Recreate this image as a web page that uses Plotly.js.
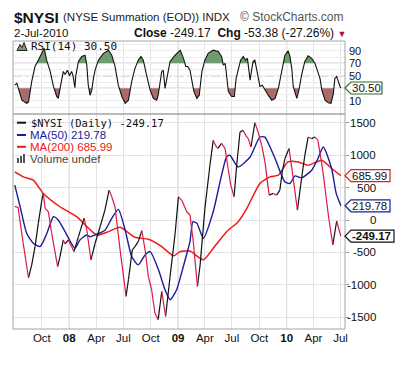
<!DOCTYPE html>
<html><head><meta charset="utf-8">
<script src="https://cdn.plot.ly/plotly-3.0.1.min.js"></script>
<style>html,body{margin:0;padding:0;background:#fff;}#chart{width:417px;height:369px;}</style>
</head><body><div id="chart"></div>
<script>
// ---------- data ----------
const nysiDates = ['2007-07-02','2007-07-13','2007-07-30','2007-08-17','2007-08-28','2007-09-08','2007-09-19','2007-10-01','2007-10-06','2007-10-12','2007-10-23','2007-11-03','2007-11-23','2007-12-01','2007-12-12','2007-12-18','2007-12-29','2008-01-17','2008-02-01','2008-02-20','2008-02-29','2008-03-14','2008-03-28','2008-04-14','2008-04-30','2008-05-14','2008-05-23','2008-06-03','2008-06-20','2008-07-10','2008-07-18','2008-07-31','2008-08-09','2008-08-20','2008-09-01','2008-09-12','2008-09-23','2008-10-04','2008-10-15','2008-10-26','2008-11-07','2008-11-20','2008-12-05','2008-12-22','2009-01-02','2009-01-14','2009-01-30','2009-02-10','2009-02-21','2009-03-07','2009-03-16','2009-04-01','2009-04-18','2009-04-29','2009-05-08','2009-05-15','2009-05-27','2009-06-08','2009-06-18','2009-06-27','2009-07-08','2009-07-17','2009-07-28','2009-08-07','2009-08-20','2009-08-25','2009-09-03','2009-09-16','2009-09-27','2009-10-09','2009-10-20','2009-11-03','2009-11-17','2009-11-28','2009-12-09','2009-12-17','2009-12-26','2010-01-09','2010-01-20','2010-02-06','2010-02-20','2010-03-03','2010-03-14','2010-03-26','2010-04-06','2010-04-16','2010-05-03','2010-05-21','2010-06-05','2010-06-18','2010-07-02'];
const nysiValues = [210,195,-350,-893,-693,-411,-51,308,415,180,128,-205,-720,-565,-308,-370,-308,-488,-257,30,-154,-616,-359,-100,154,462,359,205,-462,-1180,-924,-462,-411,-334,-165,-462,-873,-1078,-1437,-1540,-1104,-1489,-873,-205,359,300,128,77,-334,-1027,-693,180,847,1232,1140,1108,1186,1104,800,539,359,847,1360,1386,1283,1258,1129,1504,1360,1155,898,385,411,385,462,744,950,1104,744,154,642,1001,1283,1258,1283,1232,744,77,-385,-15,-249.17];

const ma50Dates = ['2007-07-02','2007-07-20','2007-08-11','2007-09-02','2007-09-25','2007-10-18','2007-11-09','2007-11-25','2007-12-18','2008-01-20','2008-02-06','2008-02-29','2008-03-11','2008-03-28','2008-04-14','2008-05-01','2008-05-23','2008-06-14','2008-07-07','2008-07-29','2008-08-20','2008-09-12','2008-09-29','2008-10-27','2008-11-18','2008-12-05','2008-12-27','2009-01-11','2009-01-28','2009-02-10','2009-02-20','2009-03-05','2009-03-27','2009-04-29','2009-05-22','2009-06-13','2009-06-24','2009-07-22','2009-08-31','2009-10-03','2009-10-20','2009-11-06','2009-11-23','2009-12-26','2010-01-12','2010-01-29','2010-02-20','2010-03-26','2010-04-16','2010-05-04','2010-06-01','2010-06-16','2010-07-02'];
const ma50Values = [539,205,-205,-359,-411,-205,51,0,-180,-436,-308,-231,-260,-231,-200,-154,26,164,-154,-565,-693,-539,-488,-770,-1078,-1232,-1078,-847,-560,-330,-26,-51,-282,128,590,975,1001,821,975,1283,1283,1129,950,590,565,682,652,770,950,1129,796,420,219.78];

const ma200Dates = ['2007-07-02','2007-07-31','2007-09-02','2007-10-06','2007-12-01','2008-01-26','2008-04-03','2008-05-12','2008-06-20','2008-08-09','2008-09-23','2008-11-07','2008-12-16','2009-01-08','2009-02-10','2009-03-27','2009-04-29','2009-06-13','2009-07-22','2009-08-20','2009-10-03','2009-11-06','2009-12-04','2010-01-05','2010-02-09','2010-03-14','2010-04-29','2010-06-01','2010-07-02'];
const ma200Values = [744,667,616,411,205,51,-231,-180,-113,-267,-298,-411,-554,-488,-480,-616,-436,-180,-26,180,565,667,693,898,898,847,924,796,685.99];

const rsiDates = ['2007-07-02','2007-07-09','2007-07-14','2007-07-26','2007-08-11','2007-08-17','2007-08-28','2007-09-08','2007-09-19','2007-10-01','2007-10-09','2007-10-17','2007-10-29','2007-11-09','2007-11-20','2007-11-25','2007-12-07','2007-12-12','2007-12-18','2007-12-26','2008-01-02','2008-01-09','2008-01-14','2008-01-20','2008-01-23','2008-02-01','2008-02-12','2008-02-23','2008-02-29','2008-03-05','2008-03-11','2008-03-17','2008-03-22','2008-03-28','2008-04-08','2008-04-25','2008-05-12','2008-05-23','2008-06-03','2008-06-14','2008-06-26','2008-07-07','2008-07-18','2008-07-29','2008-08-09','2008-08-20','2008-08-29','2008-09-06','2008-09-17','2008-09-29','2008-10-10','2008-10-21','2008-10-26','2008-11-07','2008-11-12','2008-11-18','2008-11-24','2008-12-05','2008-12-22','2009-01-08','2009-01-19','2009-01-27','2009-02-02','2009-02-10','2009-02-16','2009-02-23','2009-03-05','2009-03-13','2009-03-22','2009-04-01','2009-04-12','2009-04-29','2009-05-16','2009-05-27','2009-06-02','2009-06-08','2009-06-11','2009-06-19','2009-06-30','2009-07-09','2009-07-15','2009-07-22','2009-07-30','2009-08-08','2009-08-16','2009-08-22','2009-08-27','2009-08-31','2009-09-05','2009-09-10','2009-09-16','2009-09-22','2009-09-27','2009-10-03','2009-10-11','2009-10-20','2009-10-31','2009-11-12','2009-11-23','2009-12-04','2009-12-13','2009-12-21','2009-12-26','2010-01-06','2010-01-12','2010-01-18','2010-01-23','2010-02-04','2010-02-11','2010-02-20','2010-03-03','2010-03-14','2010-03-26','2010-04-06','2010-04-12','2010-04-17','2010-04-23','2010-04-29','2010-05-10','2010-05-21','2010-05-30','2010-06-07','2010-06-12','2010-06-18','2010-06-23','2010-06-29','2010-07-02'];
const rsiValues = [35,38,30,11,6,8,41,65,75,86,94,75,57,33,17,14,41,57,52,59,50,57,50,31,50,73,81,83,67,35,19,27,45,59,75,86,91,83,65,35,17,6,11,41,62,75,81,75,51,27,14,11,19,57,59,30,45,73,83,91,78,65,65,59,43,25,14,19,57,75,86,91,89,81,67,70,59,25,17,17,46,62,75,81,75,78,62,43,59,73,75,62,46,33,35,27,19,11,14,30,51,73,83,90,81,62,33,14,27,51,73,82,78,70,62,55,46,27,11,7,6,22,46,49,40,33,30.5];

const xTickDates = ['2007-10-01','2008-01-01','2008-04-01','2008-07-01','2008-10-01','2009-01-01','2009-04-01','2009-07-01','2009-10-01','2010-01-01','2010-04-01','2010-07-01'];
const xTickLabels = ['Oct','<b>08</b>','Apr','Jul','Oct','<b>09</b>','Apr','Jul','Oct','<b>10</b>','Apr','Jul'];
const yearLines = ['2008-01-01','2009-01-01','2010-01-01'];
const yTickValues = [1500,1000,500,0,-500,-1000,-1500];
const yTickLabels = ['1500','1000','500','0','-500','-1000','-1500'];
const rsiTickValues = [90,70,50,10];
const rsiTickLabels = ['90','70','50','10'];
const rsiLevels = [70,50,30];

// ---------- geometry ----------
const W=417,H=369,ML=13,MR=72,MT=41,MB=40;
const PW=W-ML-MR, PH=H-MT-MB;
const split=(329-114)/PH;
const mainRange=[-1685,1639], rsiRange=[-11.1,105.7];
const P=px=>(px-ML)/PW, Q=py=>(H-MB-py)/PH;
const paperY=(v,r,d0,d1)=>d0+(v-r[0])/(r[1]-r[0])*(d1-d0);

const SANS='Liberation Sans, Arial, sans-serif';
const MONO='DejaVu Sans Mono, monospace';
const UPC='#111111', DNC='#dc1a44', MA50C='#1c1c9c', MA200C='#f01818';
const GREEN='#6f9c6f', BROWN='#a86c6c';

// ---------- traces ----------
const upX=[],upY=[],dnX=[],dnY=[];
for(let i=0;i<nysiValues.length-1;i++){
  const up=nysiValues[i+1]>=nysiValues[i];
  (up?upX:dnX).push(nysiDates[i],nysiDates[i+1],null);
  (up?upY:dnY).push(nysiValues[i],nysiValues[i+1],null);
}
const ms=d=>Date.parse(d+'T00:00:00Z');
function band(level,above){
  const xs=[],ys=[];
  for(let i=0;i<rsiValues.length;i++){
    const v=rsiValues[i], t=ms(rsiDates[i]);
    if(i>0){
      const pv=rsiValues[i-1], pt=ms(rsiDates[i-1]);
      if((pv-level)*(v-level)<0){
        const f=(level-pv)/(v-pv);
        xs.push(pt+f*(t-pt)); ys.push(level);
      }
    }
    xs.push(t); ys.push(above?Math.max(v,level):Math.min(v,level));
  }
  return {xs,ys};
}
const hi=band(70,true), lo=band(30,false);
const firstMs=ms(rsiDates[0]), lastMs=ms(rsiDates[rsiDates.length-1]);

const traces=[
  {x:[firstMs,lastMs],y:[70,70],xaxis:'x',yaxis:'y2',mode:'lines',line:{width:0},hoverinfo:'skip'},
  {x:hi.xs,y:hi.ys,xaxis:'x',yaxis:'y2',mode:'lines',line:{width:0},fill:'tonexty',fillcolor:GREEN,hoverinfo:'skip'},
  {x:[firstMs,lastMs],y:[30,30],xaxis:'x',yaxis:'y2',mode:'lines',line:{width:0},hoverinfo:'skip'},
  {x:lo.xs,y:lo.ys,xaxis:'x',yaxis:'y2',mode:'lines',line:{width:0},fill:'tonexty',fillcolor:BROWN,hoverinfo:'skip'},
  {x:rsiDates,y:rsiValues,xaxis:'x',yaxis:'y2',mode:'lines',line:{color:'#111',width:1.1}},
  {x:ma200Dates,y:ma200Values,xaxis:'x',yaxis:'y',mode:'lines',line:{color:MA200C,width:1.5,shape:'spline',smoothing:0.6}},
  {x:ma50Dates,y:ma50Values,xaxis:'x',yaxis:'y',mode:'lines',line:{color:MA50C,width:1.4,shape:'spline',smoothing:0.6}},
  {x:upX,y:upY,xaxis:'x',yaxis:'y',mode:'lines',line:{color:UPC,width:1.2}},
  {x:dnX,y:dnY,xaxis:'x',yaxis:'y',mode:'lines',line:{color:DNC,width:1.2}}
];

// ---------- shapes ----------
const shapes=[];
yearLines.forEach(d=>shapes.push({type:'line',xref:'x',yref:'paper',x0:d,x1:d,y0:0,y1:1,line:{color:'#c4c4c4',width:1},layer:'below'}));
rsiLevels.forEach(l=>shapes.push({type:'line',xref:'paper',yref:'y2',x0:0,x1:1,y0:l,y1:l,line:{color:'#8c8c8c',width:1,dash:l===50?'dashdot':'solid'},layer:'below'}));
shapes.push({type:'rect',xref:'paper',yref:'paper',x0:0,x1:1,y0:0,y1:split,line:{color:'#a4a4a4',width:1}});
shapes.push({type:'rect',xref:'paper',yref:'paper',x0:0,x1:1,y0:split,y1:1,line:{color:'#a4a4a4',width:1}});
// legend icons
[[122.7,UPC],[135,MA50C],[146.8,MA200C]].forEach(([py,c])=>shapes.push({type:'line',xref:'paper',yref:'paper',x0:P(17),x1:P(26),y0:Q(py),y1:Q(py),line:{color:c,width:2}}));
[[17,3],[20,5],[23,7]].forEach(([px,h])=>shapes.push({type:'rect',xref:'paper',yref:'paper',x0:P(px),x1:P(px+2),y0:Q(163),y1:Q(163-h-2),line:{width:0},fillcolor:'#555'}));
shapes.push({type:'path',xref:'paper',yref:'paper',xsizemode:'pixel',ysizemode:'pixel',xanchor:P(17),yanchor:Q(50.5),path:'M0,0 L3,6 L5,3 L7,8 L10,0 Z',fillcolor:GREEN,line:{color:'#222',width:1}});

// ---------- annotations ----------
const ann=[];
const txt=(px,py,text,opt)=>ann.push(Object.assign({xref:'paper',yref:'paper',x:P(px),y:Q(py),text:text,showarrow:false,xanchor:'left',yanchor:'middle',font:{family:SANS,size:11.5,color:'#111'}},opt||{}));
txt(12,17,'<b>$NYSI</b>',{font:{family:SANS,size:15.5,color:'#111'}});
txt(61,17.5,'(NYSE Summation (EOD)) INDX',{font:{family:SANS,size:11.5,color:'#222'}});
txt(346,17.5,'© StockCharts.com',{xanchor:'right',font:{family:SANS,size:12,color:'#555'}});
txt(12,33,'2-Jul-2010',{font:{family:SANS,size:11.5,color:'#111'}});
txt(132,33,'<b>Close</b> -249.17  <b>Chg</b> -53.38 (-27.26%) <span style="color:#b01030;font-size:9px">▼</span>',{font:{family:SANS,size:12,color:'#111'}});
const lastN=nysiValues[nysiValues.length-1], last50=ma50Values[ma50Values.length-1], last200=ma200Values[ma200Values.length-1], lastR=rsiValues[rsiValues.length-1];
txt(29,46,'RSI(14) '+lastR.toFixed(2),{font:{family:MONO,size:11,color:'#111'}});
txt(29,122.7,'$NYSI (Daily) '+lastN.toFixed(2),{font:{family:MONO,size:10.5,color:'#111'}});
txt(28,135,'MA(50) '+last50.toFixed(2),{font:{family:SANS,size:11.5,color:MA50C}});
txt(28,146.8,'MA(200) '+last200.toFixed(2),{font:{family:SANS,size:11.5,color:MA200C}});
txt(28,158.5,'Volume undef',{font:{family:SANS,size:11.5,color:'#444'}});
// y tick labels (right aligned)
yTickValues.forEach((v,i)=>ann.push({xref:'paper',yref:'y',x:1,xshift:33,y:v,text:yTickLabels[i],showarrow:false,xanchor:'right',yanchor:'middle',font:{family:SANS,size:11.5,color:'#111'}}));
rsiTickValues.forEach((v,i)=>ann.push({xref:'paper',yref:'y2',x:1,xshift:2,y:v,text:rsiTickLabels[i],showarrow:false,xanchor:'left',yanchor:'middle',font:{family:SANS,size:11,color:'#111'}}));
// value tags
function tag(v,range,d0,d1,text,color,w,bold,size){
  const yp=paperY(v,range,d0,d1);
  shapes.push({type:'path',xref:'paper',yref:'paper',xsizemode:'pixel',ysizemode:'pixel',xanchor:1,yanchor:yp,path:`M0,0 L6,6 L${w},6 L${w},-6 L6,-6 Z`,fillcolor:'#fff',line:{color:color,width:1.2}});
  ann.push({xref:'paper',yref:'paper',x:1,xshift:6,y:yp,text:bold?'<b>'+text+'</b>':text,showarrow:false,xanchor:'left',yanchor:'middle',borderpad:0,font:{family:SANS,size:size,color:'#111'}});
}
tag(last200,mainRange,0,split,last200.toFixed(2),MA200C,45,false,11.5);
tag(last50,mainRange,0,split,last50.toFixed(2),MA50C,45,false,11.5);
tag(lastN,mainRange,0,split,lastN.toFixed(2),'#111',49,true,11.5);
tag(lastR,rsiRange,split,1,lastR.toFixed(2),'#2d6b2d',37,false,11.5);

const layout={
  width:W,height:H,margin:{l:ML,r:MR,t:MT,b:MB},
  paper_bgcolor:'#fff',plot_bgcolor:'#fff',showlegend:false,hovermode:false,
  xaxis:{type:'date',range:['2007-06-26','2010-07-16'],anchor:'y',tickvals:xTickDates,ticktext:xTickLabels,
    showgrid:true,gridcolor:'#e4e4e4',gridwidth:1,showline:false,zeroline:false,ticks:'',
    tickfont:{family:SANS,size:11.5,color:'#111'}},
  yaxis:{domain:[0,split],range:mainRange,anchor:'x',side:'right',showgrid:true,gridcolor:'#e4e4e4',
    tick0:0,dtick:500,zeroline:false,showticklabels:false,ticks:'outside',ticklen:3,tickcolor:'#999',showline:false},
  yaxis2:{domain:[split,1],range:rsiRange,anchor:'x',side:'right',showgrid:true,gridcolor:'#eeeeee',
    tick0:0,dtick:10,zeroline:false,showticklabels:false,ticks:'',showline:false},
  shapes:shapes,annotations:ann
};
Plotly.newPlot('chart',traces,layout,{displayModeBar:false,staticPlot:true});
</script></body></html>
